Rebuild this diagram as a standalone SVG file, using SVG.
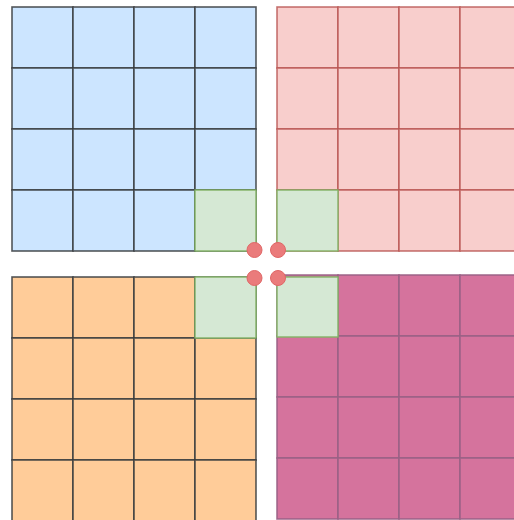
<svg xmlns="http://www.w3.org/2000/svg" width="514" height="520" viewBox="0 0 514 520">
<defs>
<style>
.blue{fill:#cce5ff;stroke:#36393d;stroke-opacity:0.85;stroke-width:1.6}
.pink{fill:#f8cecc;stroke:#b85450;stroke-opacity:0.8;stroke-width:1.6}
.orange{fill:#ffcc99;stroke:#36393d;stroke-opacity:0.85;stroke-width:1.6}
.mag{fill:#d5739d;stroke:#996185;stroke-opacity:0.9;stroke-width:1.6}
.green{fill:#d5e8d4;stroke:#82b366;stroke-opacity:1;stroke-width:1.4}
.dot{fill:#ea7b7b;stroke:#e06666;stroke-width:1}
</style>
<g id="grid4">
<rect x="0" y="0" width="61" height="61"/><rect x="61" y="0" width="61" height="61"/><rect x="122" y="0" width="61" height="61"/><rect x="183" y="0" width="61" height="61"/>
<rect x="0" y="61" width="61" height="61"/><rect x="61" y="61" width="61" height="61"/><rect x="122" y="61" width="61" height="61"/><rect x="183" y="61" width="61" height="61"/>
<rect x="0" y="122" width="61" height="61"/><rect x="61" y="122" width="61" height="61"/><rect x="122" y="122" width="61" height="61"/><rect x="183" y="122" width="61" height="61"/>
<rect x="0" y="183" width="61" height="61"/><rect x="61" y="183" width="61" height="61"/><rect x="122" y="183" width="61" height="61"/><rect x="183" y="183" width="61" height="61"/>
</g>
</defs>
<rect width="514" height="520" fill="#ffffff"/>
<g id="top-left">
<use class="blue" href="#grid4" x="12" y="7"/>
<rect class="green" x="195" y="190" width="61" height="61"/>
</g>
<g id="top-right">
<use class="pink" href="#grid4" x="277" y="7"/>
<rect class="green" x="277" y="190" width="61" height="61"/>
</g>
<g id="bottom-left">
<use class="orange" href="#grid4" x="12" y="277"/>
<rect class="green" x="195" y="277" width="61" height="61"/>
</g>
<g id="bottom-right">
<use class="mag" href="#grid4" x="277" y="275"/>
<rect class="green" x="277" y="277" width="61" height="60"/>
</g>
<g id="dots">
<circle class="dot" cx="254.5" cy="250" r="7.5"/>
<circle class="dot" cx="278" cy="250" r="7.5"/>
<circle class="dot" cx="254.5" cy="278" r="7.5"/>
<circle class="dot" cx="278" cy="278" r="7.5"/>
</g>
</svg>
